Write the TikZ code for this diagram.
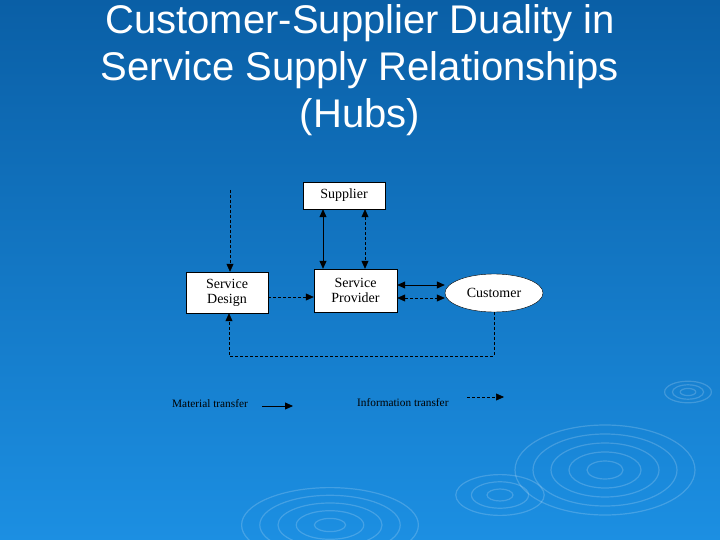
\documentclass[tikz,border=0pt]{standalone}
\usepackage{fontspec}
\setmainfont{Liberation Serif}
\newfontfamily\titlefont{Liberation Sans}
\usetikzlibrary{arrows.meta,shapes.geometric}
\definecolor{bgtop}{HTML}{0A5FA6}
\definecolor{bgbot}{HTML}{1C8FE2}
\begin{document}
\begin{tikzpicture}[x=1pt,y=-1pt,
  box/.style={draw=black,fill=white,align=center,font=\fontsize{14}{15}\selectfont,inner sep=0pt},
  tip/.style={-{Triangle[length=8pt,width=7pt]}},
  dtip/.style={{Triangle[length=8pt,width=7pt]}-{Triangle[length=8pt,width=7pt]}},
  dsh/.style={dash pattern=on 3pt off 2pt,line width=0.6pt},
  sol/.style={line width=0.8pt},
  ripple/.style={draw=white,opacity=0.18,line width=1.2pt}]
\useasboundingbox (0,0) rectangle (720,540);
\shade[top color=bgtop,bottom color=bgbot] (0,0) rectangle (720,540);
\foreach \r in {15,30,45,60,75}{\draw[ripple] (605,470) ellipse ({\r*1.2} and \r*0.6);}
\foreach \r in {12,26,40,54,68}{\draw[ripple] (330,525) ellipse ({\r*1.3} and \r*0.55);}
\foreach \r in {10,22,34}{\draw[ripple] (500,495) ellipse ({\r*1.3} and \r*0.6);}
\foreach \r in {6,12,18}{\draw[ripple] (688,392) ellipse ({\r*1.3} and \r*0.6);}
\node[text=white,align=center,font=\titlefont\fontsize{40}{47}\selectfont] (title) at (360,70)
  {Customer-Supplier Duality in\\Service Supply Relationships\\(Hubs)};
\node[box,minimum width=82pt,minimum height=27pt] (sup) at (344,195.5) {Supplier};
\node[box,minimum width=82pt,minimum height=41pt] (sd) at (227,292.5) {Service\\Design};
\node[box,minimum width=83pt,minimum height=43pt] (sp) at (355.5,290.5) {Service\\Provider};
\node[draw=black,fill=white,ellipse,minimum width=98pt,minimum height=38pt,inner sep=0pt,font=\fontsize{14}{15}\selectfont] (cu) at (494,293) {Customer};
\draw[sol,dtip] (sup.south -| 323,0) -- (sp.north -| 323,0);
\draw[dsh,dtip] (sup.south -| 365,0) -- (sp.north -| 365,0);
\coordinate (top) at (230,190);
\draw[dsh,tip] (top) -- (sd.north -| top);
\draw[dsh,tip] (sd.east |- 0,297) -- (sp.west |- 0,297);
\draw[sol,dtip] (sp.east |- 0,285) -- (cu.west |- 0,285);
\draw[dsh,dtip] (sp.east |- 0,298) -- (cu.west |- 0,298);
\coordinate (c1) at (494,356);
\coordinate (c2) at (229,356);
\draw[dsh,tip] (cu.south) -- (c1) -- (c2) -- (sd.south -| c2);
\node[font=\fontsize{11.3}{11}\selectfont,anchor=west,inner sep=0pt] (lm) at (172,404) {Material transfer};
\coordinate (la) at (262,406); \coordinate (lb) at (293,406);
\draw[sol,tip] (la) -- (lb);
\node[font=\fontsize{11.3}{11}\selectfont,anchor=west,inner sep=0pt] (li) at (357,403) {Information transfer};
\coordinate (lc) at (467,397); \coordinate (ld) at (504,397);
\draw[dsh,tip] (lc) -- (ld);
\end{tikzpicture}
\end{document}
